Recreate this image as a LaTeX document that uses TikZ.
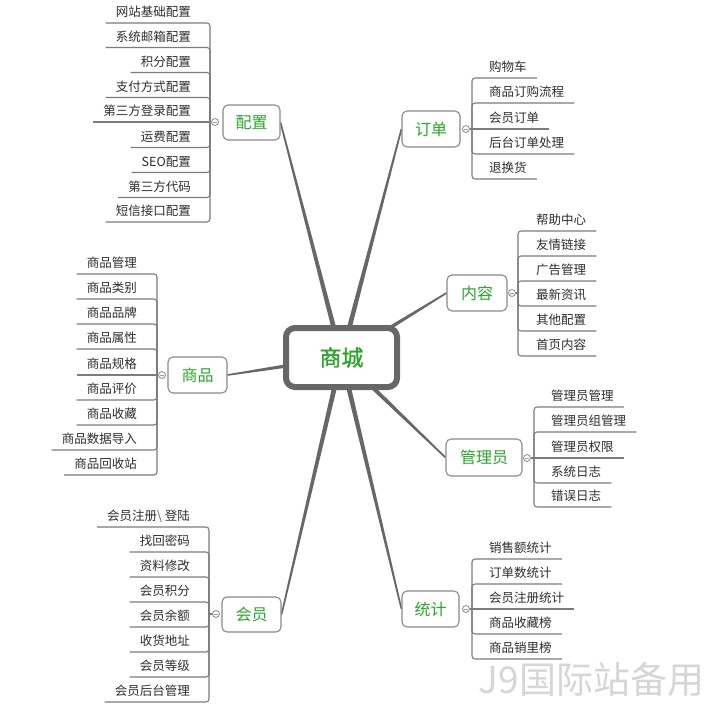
\documentclass[tikz,border=0pt]{standalone}
\usepackage{fontspec}
\newfontfamily\cjk{Noto Sans CJK SC}
\newfontfamily\cjkb[FakeBold=1.2]{Noto Sans CJK SC}
\usetikzlibrary{calc,backgrounds}
\definecolor{leafc}{HTML}{2E2E2E}
\definecolor{greenc}{HTML}{2BA52B}
\definecolor{linec}{HTML}{676767}
\definecolor{leaflinec}{HTML}{7C7C7C}
\definecolor{boxc}{HTML}{8A8A8A}
\definecolor{knobc}{HTML}{9A9AB4}
\definecolor{wmc}{HTML}{D6D6D6}
\definecolor{slashc}{HTML}{3366AA}
\newcommand\mmtaper[2]{\fill[linec] ($(#1)!2.6pt!90:(#2)$) -- ($(#2)!0.8pt!-90:(#1)$) -- ($(#2)!0.8pt!90:(#1)$) -- ($(#1)!2.6pt!-90:(#2)$) -- cycle;}
\tikzset{
  leaf/.style={font=\cjk\fontsize{12.5pt}{15pt}\selectfont, text=leafc, inner sep=0pt, text depth=6pt},
  branchbox/.style={draw=boxc, line width=1.1pt, rounded corners=5pt, fill=white, inner sep=0pt,
    font=\cjk\fontsize{16pt}{18pt}\selectfont, text=greenc},
  knob/.style={circle, draw=boxc, fill=white, line width=0.8pt, minimum size=7pt, inner sep=0pt,
    path picture={\draw[knobc, line width=0.7pt] ($(path picture bounding box.center)+(-2,0)$) -- ++(4,0);}},
  leafline/.style={draw=leaflinec, line width=1.1pt, rounded corners=3pt},
  centerbox/.style={draw=linec, line width=6pt, rounded corners=9pt, fill=white, minimum width=111pt,
    minimum height=59pt, font=\cjkb\fontsize{22pt}{24pt}\selectfont, text=greenc}
}
\begin{document}
\begin{tikzpicture}[x=1pt,y=-1pt]
\useasboundingbox (0,0) rectangle (716,710);

% center
\node[centerbox] (sc) at (341.5,357.5) {商城};

% branch boxes
\node[branchbox, minimum width=57pt, minimum height=35pt] (pz) at (251.5,122.5) {配置};
\node[branchbox, minimum width=58pt, minimum height=36pt] (dd) at (431,129) {订单};
\node[branchbox, minimum width=60pt, minimum height=36pt] (nr) at (477,293) {内容};
\node[branchbox, minimum width=76pt, minimum height=37pt] (gl) at (484,457.5) {管理员};
\node[branchbox, minimum width=57pt, minimum height=36pt] (tj) at (430.5,609) {统计};
\node[branchbox, minimum width=59pt, minimum height=36pt] (sp) at (197.5,375) {商品};
\node[branchbox, minimum width=59pt, minimum height=35pt] (hy) at (251.5,614.5) {会员};

% connectors from the center
\begin{scope}[on background layer]
\fill[white] (0,0) rectangle (716,710);
\mmtaper{sc.center}{pz.east}
\mmtaper{sc.center}{dd.west}
\mmtaper{sc.center}{nr.west}
\mmtaper{sc.center}{gl.west}
\mmtaper{sc.center}{tj.west}
\mmtaper{sc.center}{sp.east}
\mmtaper{sc.center}{hy.east}
\end{scope}

% ---------- 配置 (left)
\node[knob] (pzo) at (215,122) {};
\coordinate (pzb) at (210,122);
\foreach \t/\y [count=\i] in {网站基础配置/23,系统邮箱配置/47.5,积分配置/72.5,支付方式配置/97.5,运费配置/147.5,SEO配置/172.5,第三方代码/197.5,短信接口配置/222}{
  \node[leaf, anchor=south east] (pz\i) at (191,\y) {\t};
  \draw[leafline] (pzb) |- ($(pz\i.south west)+(-10,0)$);
}
\node[leaf, anchor=south east] (pz0) at (191,122) {第三方登录配置};
\draw[leafline] (pzo) -- ($(pz0.south west)+(-10,0)$);

% ---------- 订单 (right)
\node[knob] (ddo) at (466,129) {};
\coordinate (ddb) at (472,129);
\foreach \t/\y [count=\i] in {购物车/78,商品订购流程/103,后台订单处理/154,退换货/179}{
  \node[leaf, anchor=south west] (dd\i) at (489,\y) {\t};
  \draw[leafline] (ddb) |- ($(dd\i.south east)+(10,0)$);
}
\node[leaf, anchor=south west] (dd0) at (489,129) {会员订单};
\draw[leafline] (ddo) -- ($(dd0.south east)+(10,0)$);

% ---------- 内容 (right)
\node[knob] (nro) at (512,293) {};
\coordinate (nrb) at (518,293);
\draw[leafline] (nro) -- (nrb);
\foreach \t/\y [count=\i] in {帮助中心/231,友情链接/256,广告管理/281,最新资讯/306,其他配置/331,首页内容/356}{
  \node[leaf, anchor=south west] (nr\i) at (536,\y) {\t};
  \draw[leafline] (nrb) |- ($(nr\i.south east)+(10,0)$);
}

% ---------- 管理员 (right)
\node[knob] (glo) at (527,458) {};
\coordinate (glb) at (534,458);
\foreach \t/\y [count=\i] in {管理员管理/407,管理员组管理/432,系统日志/483,错误日志/507}{
  \node[leaf, anchor=south west] (gl\i) at (551,\y) {\t};
  \draw[leafline] (glb) |- ($(gl\i.south east)+(10,0)$);
}
\node[leaf, anchor=south west] (gl0) at (551,458) {管理员权限};
\draw[leafline] (glo) -- ($(gl0.south east)+(10,0)$);

% ---------- 统计 (right)
\node[knob] (tjo) at (466,609) {};
\coordinate (tjb) at (472,609);
\foreach \t/\y [count=\i] in {销售额统计/559,订单数统计/584,商品收藏榜/634,商品销里榜/659}{
  \node[leaf, anchor=south west] (tj\i) at (489,\y) {\t};
  \draw[leafline] (tjb) |- ($(tj\i.south east)+(10,0)$);
}
\node[leaf, anchor=south west] (tj0) at (489,609) {会员注册统计};
\draw[leafline] (tjo) -- ($(tj0.south east)+(10,0)$);

% ---------- 商品 (left)
\node[knob] (spo) at (162,375) {};
\coordinate (spb) at (157,375);
\foreach \t/\y [count=\i] in {商品管理/274,商品类别/299,商品品牌/324,商品属性/349,商品评价/400,商品收藏/425,商品数据导入/450,商品回收站/475}{
  \node[leaf, anchor=south east] (sp\i) at (137,\y) {\t};
  \draw[leafline] (spb) |- ($(sp\i.south west)+(-10,0)$);
}
\node[leaf, anchor=south east] (sp0) at (137,375) {商品规格};
\draw[leafline] (spo) -- ($(sp0.south west)+(-10,0)$);

% ---------- 会员 (left)
\node[knob] (hyo) at (216,614) {};
\coordinate (hyb) at (209,614);
\draw[leafline] (hyo) -- (hyb);
\foreach \t/\y [count=\i] in {{会员注册{\color{slashc}\textbackslash}\ 登陆}/527,找回密码/552,资料修改/577,会员积分/602,会员余额/627,收货地址/652,会员等级/677,会员后台管理/702}{
  \node[leaf, anchor=south east] (hy\i) at (190,\y) {\t};
  \draw[leafline] (hyb) |- ($(hy\i.south west)+(-10,0)$);
}

% watermark
\node[font=\cjk\fontsize{37pt}{40pt}\selectfont, text=wmc, inner sep=0pt] (wm) at (591.5,679) {J9国际站备用};
\end{tikzpicture}
\end{document}
